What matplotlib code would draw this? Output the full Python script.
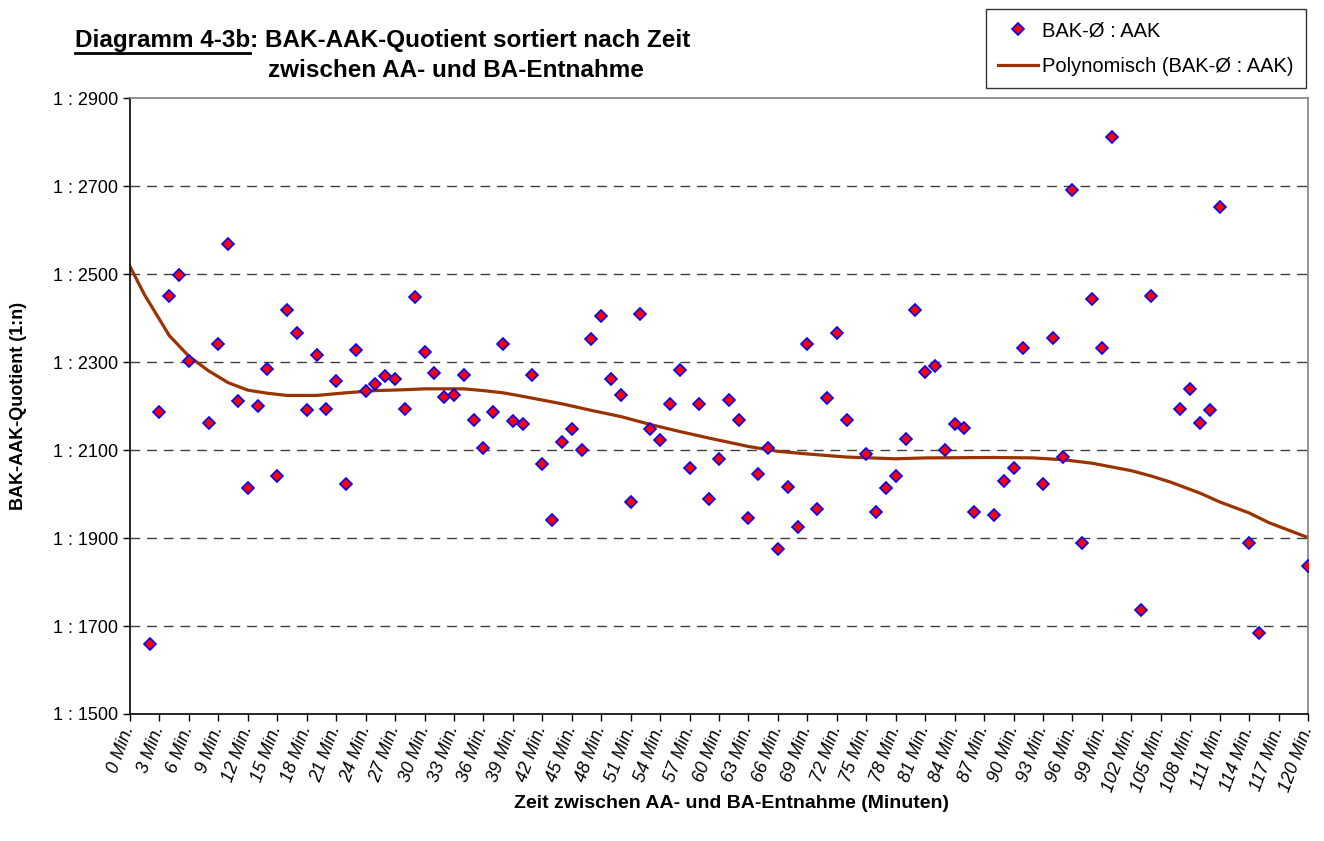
import matplotlib
matplotlib.use('Agg')
import matplotlib.pyplot as plt
from matplotlib.lines import Line2D
from matplotlib.ticker import FuncFormatter

plt.rcParams['font.family'] = ['Liberation Sans', 'DejaVu Sans']

# minutes between AA and BA sampling, and the mean BAK:AAK quotient (1:n)
minutes = [2, 3, 4, 5, 6, 8, 9, 10, 11, 12, 13, 14, 15, 16, 17, 18, 19, 20, 21, 22,
           23, 24, 25, 26, 27, 28, 29,
           30, 31, 32, 33, 34, 35, 36, 37, 38, 39, 40, 41, 42, 43, 44, 45, 46, 47,
           48, 49, 50, 51, 52, 53, 54, 55, 56, 57, 58,
           59, 60, 61, 62, 63, 64, 65, 66, 67, 68, 69, 70, 71, 72, 73, 75, 76, 77,
           78, 79, 80, 81, 82, 83, 84, 85, 86, 88,
           89, 90, 91, 93, 94, 95, 96, 97, 98, 99, 100, 103, 104, 107, 108, 109,
           110, 111, 114, 115, 120]
quotient = [1660, 2186, 2451, 2497, 2302, 2161, 2342, 2568, 2211, 2013, 2201, 2285,
            2041, 2419, 2366, 2190, 2316, 2193, 2257, 2023, 2327, 2235, 2250, 2268,
            2261, 2193, 2447,
            2323, 2274, 2221, 2225, 2271, 2169, 2105, 2186, 2342, 2165, 2158, 2271,
            2069, 1942, 2119, 2147, 2101, 2352, 2405, 2261, 2225, 1981, 2409, 2147,
            2122, 2204, 2282, 2058, 2204,
            1988, 2080, 2214, 2169, 1945, 2045, 2105, 1875, 2017, 1925, 2342, 1967,
            2218, 2366, 2169, 2090, 1960, 2013, 2041, 2126, 2419, 2278, 2292, 2101,
            2158, 2150, 1960, 1953,
            2030, 2058, 2331, 2023, 2355, 2084, 2691, 1889, 2444, 2331, 2811, 1737,
            2451, 2193, 2239, 2161, 2190, 2652, 1889, 1684, 1836]

# polynomial trendline
trend_min = [0, 1.5, 3, 4, 6, 8, 10, 12, 14, 16, 19, 22, 25, 28, 30, 34, 36, 38, 40,
             44, 47, 50, 53, 56, 59, 63, 66, 69, 73, 78, 81, 88, 92, 95, 98, 102,
             104, 106, 109, 111, 114, 116, 118, 120]
trend_val = [2517, 2452, 2397, 2360, 2313, 2280, 2253, 2236, 2229, 2224, 2224, 2230,
             2235, 2237, 2239, 2239, 2235, 2230, 2222, 2205, 2190, 2176, 2158, 2142,
             2127, 2108, 2097, 2091, 2084, 2080, 2082, 2083, 2082, 2078, 2070, 2053,
             2041, 2027, 2002, 1982, 1957, 1935, 1918, 1901]

tick_minutes = list(range(0, 121, 3))
tick_labels = [f'{m} Min.' for m in tick_minutes]

fig = plt.figure(figsize=(13.24, 8.41), dpi=100)
ax = fig.add_axes([130 / 1324, 1 - 714 / 841, (1308 - 130) / 1324, (714 - 98) / 841])

ax.plot(trend_min, trend_val, color='#9a3300', lw=2.3, zorder=2,
        label='Polynomisch (BAK-Ø : AAK)')
ax.plot(minutes, quotient, ls='none', marker='D', ms=6.5, mfc='red', mec='blue',
        mew=1.2, zorder=3, label='BAK-Ø : AAK')

ax.set_xlim(0, 120)
ax.set_ylim(1500, 2900)
ax.set_yticks(range(1500, 2901, 200))
ax.yaxis.set_major_formatter(FuncFormatter(lambda v, p: f'1 : {int(v)}'))
ax.set_xticks(tick_minutes)
ax.set_xticklabels(tick_labels, rotation=70, ha='right', va='center',
                   rotation_mode='anchor', style='italic')
ax.tick_params(axis='both', labelsize=13, direction='out', length=5, width=1,
               color='black')
ax.tick_params(axis='x', pad=4)

for v in range(1700, 2800, 200):
    ax.axhline(v, color='#404040', lw=1, dashes=(7, 5), zorder=1)

ax.spines['left'].set_color('black')
ax.spines['bottom'].set_color('black')
ax.spines['top'].set_color('#808080')
ax.spines['right'].set_color('#808080')
for s in ax.spines.values():
    s.set_linewidth(1.2)

# axis titles placed where they sit in the original
fig.text(19 / 1324, 1 - 406 / 841, 'BAK-AAK-Quotient (1:n)', fontsize=13,
         fontweight='bold', rotation=90, ha='center', va='center')
fig.text(731 / 1324, 1 - 804 / 841, 'Zeit zwischen AA- und BA-Entnahme (Minuten)',
         fontsize=14, fontweight='bold', ha='center', va='center')

handles, labels = ax.get_legend_handles_labels()
leg = fig.legend(handles[::-1], labels[::-1], loc='upper right',
                 bbox_to_anchor=(1306 / 1324, 1 - 9 / 841), fontsize=14.5,
                 frameon=True, fancybox=False, edgecolor='black',
                 handlelength=2.0, handletextpad=0.2, borderpad=0.6,
                 labelspacing=0.85, borderaxespad=0)
leg.get_frame().set_linewidth(1)

# title with underlined first part
t1 = fig.text(75 / 1324, 1 - 47 / 841, 'Diagramm 4-3b', fontsize=17.5,
              fontweight='bold')
fig.canvas.draw()
bb = t1.get_window_extent()
fig.text(bb.x1 / 1324, 1 - 47 / 841, ': BAK-AAK-Quotient sortiert nach Zeit',
         fontsize=17.5, fontweight='bold')
fig.text(268 / 1324, 1 - 77 / 841, 'zwischen AA- und BA-Entnahme', fontsize=17.5,
         fontweight='bold')
fig.add_artist(Line2D([bb.x0 / 1324, bb.x1 / 1324],
                      [(bb.y0 - 1) / 841, (bb.y0 - 1) / 841], color='black', lw=2))

fig.savefig('out.png', dpi=100)
